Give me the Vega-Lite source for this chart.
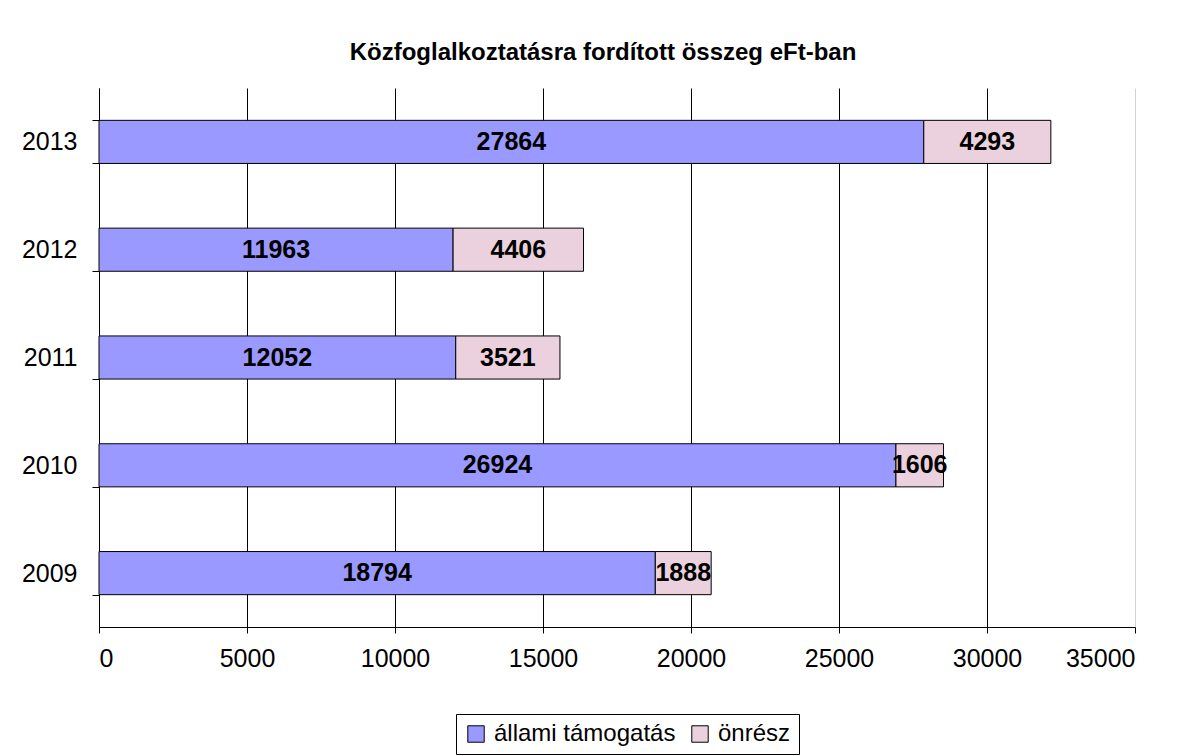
{
  "$schema": "https://vega.github.io/schema/vega-lite/v6.json",
  "width": 1036,
  "height": 539,
  "autosize": {"type": "none"},
  "padding": {"left": 99, "top": 88, "right": 57, "bottom": 129},
  "background": "white",
  "title": {
    "text": "Közfoglalkoztatásra fordított összeg eFt-ban",
    "font": "Liberation Sans",
    "fontSize": 24,
    "fontWeight": "bold",
    "color": "black",
    "anchor": "middle",
    "dx": -14,
    "offset": 11
  },
  "config": {
    "view": {"stroke": null},
    "font": "Liberation Sans"
  },
  "data": {
    "values": [
      {"year": "2013", "type": "állami támogatás", "ord": 1, "value": 27864},
      {"year": "2013", "type": "önrész", "ord": 2, "value": 4293},
      {"year": "2012", "type": "állami támogatás", "ord": 1, "value": 11963},
      {"year": "2012", "type": "önrész", "ord": 2, "value": 4406},
      {"year": "2011", "type": "állami támogatás", "ord": 1, "value": 12052},
      {"year": "2011", "type": "önrész", "ord": 2, "value": 3521},
      {"year": "2010", "type": "állami támogatás", "ord": 1, "value": 26924},
      {"year": "2010", "type": "önrész", "ord": 2, "value": 1606},
      {"year": "2009", "type": "állami támogatás", "ord": 1, "value": 18794},
      {"year": "2009", "type": "önrész", "ord": 2, "value": 1888}
    ]
  },
  "encoding": {
    "y": {
      "field": "year",
      "type": "nominal",
      "sort": "descending",
      "scale": {"paddingInner": 0.6, "paddingOuter": 0.3},
      "axis": {
        "title": null,
        "tickBand": "extent",
        "domainColor": "black",
        "tickColor": "black",
        "tickSize": 7,
        "labelPadding": 15,
        "labelFontSize": 25,
        "labelColor": "black",
        "labelFont": "Liberation Sans",
        "grid": false
      }
    }
  },
  "layer": [
    {
      "mark": {"type": "bar", "stroke": "black", "strokeWidth": 1},
      "encoding": {
        "x": {
          "field": "value",
          "type": "quantitative",
          "stack": "zero",
          "scale": {"domain": [0, 35000], "nice": false},
          "axis": {
            "title": null,
            "values": [0, 5000, 10000, 15000, 20000, 25000, 30000, 35000],
            "format": "d",
            "grid": true,
            "gridColor": {"condition": {"test": "datum.value === 35000", "value": "#d0d0d0"}, "value": "black"},
            "gridOpacity": 1,
            "domainColor": "black",
            "tickColor": "black",
            "tickSize": 6,
            "labelPadding": 13,
            "labelFontSize": 25,
            "labelColor": "black",
            "labelFont": "Liberation Sans"
          }
        },
        "order": {"field": "ord", "type": "quantitative"},
        "color": {
          "field": "type",
          "type": "nominal",
          "scale": {"domain": ["állami támogatás", "önrész"], "range": ["#9999FF", "#EBD0DD"]},
          "legend": {
            "title": null,
            "orient": "none",
            "legendX": 357,
            "legendY": 626,
            "direction": "horizontal",
            "strokeColor": "black",
            "padding": 8,
            "symbolType": "square",
            "symbolSize": 270,
            "symbolStrokeColor": "black",
            "symbolStrokeWidth": 1,
            "labelFontSize": 24,
            "labelLimit": 400,
            "labelColor": "black",
            "labelFont": "Liberation Sans",
            "columnPadding": 12,
            "labelOffset": 6
          }
        }
      }
    },
    {
      "mark": {"type": "text", "font": "Liberation Sans", "fontSize": 25, "fontWeight": "bold", "color": "black", "baseline": "middle"},
      "encoding": {
        "x": {"field": "value", "type": "quantitative", "stack": "zero", "bandPosition": 0.5},
        "order": {"field": "ord", "type": "quantitative"},
        "detail": {"field": "type"},
        "text": {"field": "value", "type": "quantitative", "format": "d"}
      }
    }
  ]
}
